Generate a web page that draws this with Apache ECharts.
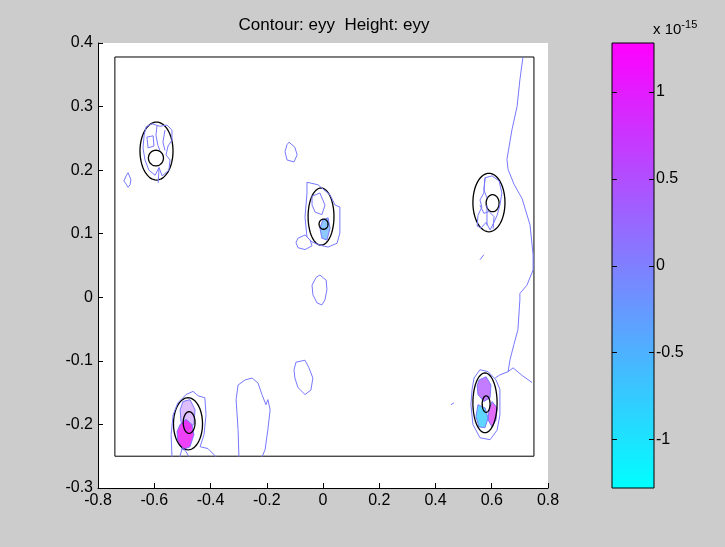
<!DOCTYPE html>
<html>
<head>
<meta charset="utf-8">
<script src="https://cdn.jsdelivr.net/npm/echarts@6/dist/echarts.min.js"></script>
<style>
html, body { margin: 0; padding: 0; background: #cccccc; }
#chart { width: 725px; height: 547px; }
</style>
</head>
<body>
<div id="chart"></div>
<script>
// ---- axes ----
const xRange = [-0.8, 0.8];
const yRange = [-0.3, 0.4];
const colorRange = [-1.28, 1.28];          // x 10^-15
const colorTicks = [-1, -0.5, 0, 0.5, 1];

// ---- geometry: outer boundary and the circular inclusions [cx, cy, rx, ry] ----
const boundary = [[-0.74, -0.25], [0.75, -0.25], [0.75, 0.378], [-0.74, 0.378], [-0.74, -0.25]];
const ellipses = [
  [-0.592, 0.230, 0.0587, 0.0456], [-0.594, 0.219, 0.0267, 0.0123],
  [-0.007, 0.127, 0.046, 0.045],   [0.002, 0.115, 0.016, 0.008],
  [0.590, 0.149, 0.057, 0.046],    [0.603, 0.148, 0.023, 0.0134],
  [-0.480, -0.199, 0.0516, 0.041], [-0.476, -0.197, 0.021, 0.017],
  [0.576, -0.166, 0.043, 0.047],   [0.580, -0.168, 0.014, 0.013]
];

// ---- eyy contour lines (near-zero level) ----
const contourRight = [[0.711,0.378],[0.700,0.342],[0.690,0.300],[0.672,0.264],[0.654,0.217],[0.658,0.201],[0.679,0.178],[0.708,0.155],[0.736,0.114],[0.747,0.067],[0.747,0.043],[0.725,0.019],[0.700,0.006],[0.700,-0.004],[0.693,-0.051],[0.679,-0.074],[0.665,-0.098],[0.658,-0.117],[0.629,-0.122],[0.612,-0.127]];
const contourRightBranch = [[0.658,-0.117],[0.676,-0.111],[0.708,-0.123],[0.743,-0.134]];
const loopTopCenter = [[-0.121,0.244],[-0.100,0.236],[-0.092,0.224],[-0.103,0.213],[-0.128,0.216],[-0.135,0.229],[-0.128,0.240],[-0.121,0.244]];
const loopTopLeft = [[-0.693,0.196],[-0.683,0.185],[-0.686,0.177],[-0.693,0.173],[-0.700,0.178],[-0.708,0.183],[-0.700,0.191],[-0.693,0.196]];
const loopCenter = [[-0.011,0.035],[0.011,0.027],[0.014,0.012],[0.007,-0.004],[-0.004,-0.012],[-0.021,-0.009],[-0.036,0.004],[-0.039,0.019],[-0.025,0.031],[-0.011,0.035]];
const loopLowCenter = [[-0.096,-0.102],[-0.064,-0.099],[-0.050,-0.111],[-0.036,-0.127],[-0.043,-0.146],[-0.064,-0.153],[-0.089,-0.142],[-0.100,-0.127],[-0.103,-0.114],[-0.096,-0.102]];
const loopBottom = [[-0.299,-0.251],[-0.302,-0.208],[-0.309,-0.161],[-0.302,-0.138],[-0.277,-0.130],[-0.252,-0.127],[-0.231,-0.135],[-0.217,-0.153],[-0.203,-0.169],[-0.196,-0.161],[-0.188,-0.177],[-0.196,-0.208],[-0.206,-0.240],[-0.217,-0.251]];
const ringBottomLeft = [[-0.537,-0.251],[-0.540,-0.216],[-0.533,-0.185],[-0.516,-0.166],[-0.487,-0.153],[-0.462,-0.148],[-0.444,-0.155],[-0.420,-0.158],[-0.416,-0.185],[-0.423,-0.216],[-0.437,-0.235],[-0.409,-0.238],[-0.380,-0.251]];
const lineBottomLeft = [[-0.509,-0.251],[-0.500,-0.236],[-0.487,-0.243],[-0.476,-0.251]];
const ringBottomRight = [[0.537,-0.127],[0.558,-0.114],[0.587,-0.117],[0.615,-0.130],[0.629,-0.145],[0.629,-0.185],[0.619,-0.209],[0.594,-0.224],[0.558,-0.221],[0.533,-0.200],[0.526,-0.169],[0.530,-0.145],[0.537,-0.127]];
const ringTopLeft = [[-0.629,0.268],[-0.608,0.273],[-0.580,0.269],[-0.555,0.271],[-0.537,0.263],[-0.537,0.247],[-0.551,0.238],[-0.558,0.224],[-0.544,0.216],[-0.548,0.200],[-0.572,0.191],[-0.583,0.204],[-0.597,0.192],[-0.619,0.200],[-0.633,0.216],[-0.640,0.235],[-0.636,0.255],[-0.629,0.268]];
const stemTopLeft = [[-0.583,0.204],[-0.586,0.180]];
const webTopLeftA = [[-0.590,0.270],[-0.594,0.255],[-0.587,0.239],[-0.580,0.231]];
const webTopLeftB = [[-0.562,0.263],[-0.569,0.244],[-0.562,0.231]];
const loopTopLeftInner = [[-0.626,0.252],[-0.604,0.254],[-0.601,0.238],[-0.622,0.235],[-0.626,0.252]];
const ringCenter = [[-0.057,0.181],[-0.018,0.177],[0.025,0.161],[0.043,0.145],[0.060,0.142],[0.060,0.101],[0.050,0.085],[0.018,0.079],[-0.011,0.082],[-0.039,0.087],[-0.057,0.095],[-0.064,0.126],[-0.057,0.164],[-0.057,0.181]];
const loopCenterSide = [[-0.089,0.093],[-0.064,0.098],[-0.046,0.090],[-0.039,0.081],[-0.064,0.075],[-0.089,0.078],[-0.096,0.086],[-0.089,0.093]];
const loopCenterInner = [[-0.039,0.159],[-0.011,0.164],[0.007,0.145],[-0.004,0.130],[-0.028,0.134],[-0.039,0.145],[-0.039,0.159]];
const ringTopRight = [[0.576,0.188],[0.601,0.191],[0.626,0.183],[0.636,0.164],[0.629,0.145],[0.619,0.129],[0.608,0.118],[0.594,0.106],[0.580,0.118],[0.562,0.109],[0.548,0.112],[0.551,0.129],[0.565,0.142],[0.558,0.153],[0.572,0.164],[0.576,0.188]];
const stemTopRight = [[0.583,0.145],[0.583,0.113]];
const webTopRightA = [[0.576,0.188],[0.572,0.169],[0.583,0.156]];
const webTopRightB = [[0.558,0.145],[0.572,0.132],[0.590,0.135],[0.608,0.127],[0.605,0.108]];
const dashRight = [[0.558,0.059],[0.572,0.067]];
const dashLowRight = [[0.455,-0.169],[0.466,-0.166]];

const contours = [contourRight, contourRightBranch, loopTopCenter, loopTopLeft, loopCenter, loopLowCenter,
  loopBottom, ringBottomLeft, lineBottomLeft, ringBottomRight, ringTopLeft, stemTopLeft, webTopLeftA,
  webTopLeftB, loopTopLeftInner, ringCenter, loopCenterSide, loopCenterInner, ringTopRight, stemTopRight,
  webTopRightA, webTopRightB, dashRight, dashLowRight];

// ---- dense contour patches (strain concentrations) ----
const patchMagentaLeft = [[-0.508,-0.200],[-0.487,-0.192],[-0.466,-0.200],[-0.459,-0.216],[-0.473,-0.235],[-0.498,-0.240],[-0.516,-0.227],[-0.519,-0.211]];
const patchPurpleLeft = [[-0.498,-0.164],[-0.473,-0.161],[-0.455,-0.177],[-0.459,-0.200],[-0.480,-0.208],[-0.505,-0.196],[-0.508,-0.177]];
const patchPurpleRight = [[0.555,-0.130],[0.580,-0.125],[0.597,-0.138],[0.594,-0.158],[0.572,-0.164],[0.551,-0.153],[0.548,-0.139]];
const patchCyanRight = [[0.551,-0.169],[0.576,-0.174],[0.587,-0.190],[0.576,-0.205],[0.555,-0.204],[0.544,-0.188]];
const patchMagentaRight = [[0.601,-0.164],[0.619,-0.174],[0.615,-0.193],[0.601,-0.204],[0.587,-0.193],[0.590,-0.177]];
const patchBlueCenter = [[0.000,0.122],[0.018,0.125],[0.025,0.109],[0.014,0.090],[-0.004,0.093],[-0.011,0.109]];

const patches = [
  [patchPurpleLeft, 'rgba(185,110,255,0.45)'],
  [patchMagentaLeft, 'rgba(235,30,245,0.85)'],
  [patchPurpleRight, 'rgba(175,80,255,0.75)'],
  [patchCyanRight, 'rgba(40,200,255,0.75)'],
  [patchMagentaRight, 'rgba(215,60,245,0.75)'],
  [patchBlueCenter, 'rgba(80,170,255,0.65)']
];

const FONT = 'Liberation Sans, Arial, sans-serif';
const lineColor = '#7878ff';

function toPixels(api, pts) {
  return pts.map(function (pt) { return api.coord(pt); });
}

const series = [
  // filled patches
  {
    type: 'custom', xAxisIndex: 0, yAxisIndex: 0, data: [[0, 0]], silent: true, z: 2,
    renderItem: function (params, api) {
      return {
        type: 'group',
        children: patches.map(function (p) {
          return { type: 'polygon', shape: { points: toPixels(api, p[0]) },
            style: { fill: p[1], stroke: lineColor, lineWidth: 1 } };
        })
      };
    }
  },
  // domain boundary
  {
    type: 'custom', xAxisIndex: 0, yAxisIndex: 0, data: [[0, 0]], silent: true, z: 4,
    renderItem: function (params, api) {
      return { type: 'polyline', shape: { points: toPixels(api, boundary) },
        style: { fill: 'transparent', stroke: '#000', lineWidth: 1 } };
    }
  },
  // inclusion outlines
  {
    type: 'custom', xAxisIndex: 0, yAxisIndex: 0, data: ellipses, silent: true, z: 5,
    renderItem: function (params, api) {
      const c = api.coord([api.value(0), api.value(1)]);
      const s = api.size([api.value(2), api.value(3)]);
      const pts = [];
      for (let k = 0; k <= 64; k++) {
        const a = k / 64 * Math.PI * 2;
        pts.push([c[0] + s[0] * Math.cos(a), c[1] + s[1] * Math.sin(a)]);
      }
      return { type: 'polyline', shape: { points: pts }, style: { stroke: '#000', lineWidth: 1.3, fill: 'transparent' } };
    }
  },
  // contour lines, all in one group
  {
    type: 'custom', xAxisIndex: 0, yAxisIndex: 0, data: [[0, 0]], silent: true, z: 6,
    renderItem: function (params, api) {
      return {
        type: 'group',
        children: contours.map(function (c) {
          return { type: 'polyline', shape: { points: toPixels(api, c) },
            style: { fill: 'transparent', stroke: lineColor, lineWidth: 1 } };
        })
      };
    }
  },
  // colour bar with inward ticks on both sides
  {
    type: 'custom', xAxisIndex: 1, yAxisIndex: 1, data: [[0, colorRange[0], 1, colorRange[1]]], silent: true,
    renderItem: function (params, api) {
      const p0 = api.coord([api.value(0), api.value(3)]);
      const p1 = api.coord([api.value(2), api.value(1)]);
      const children = [{
        type: 'rect',
        shape: { x: p0[0], y: p0[1], width: p1[0] - p0[0], height: p1[1] - p0[1] },
        style: {
          fill: new echarts.graphic.LinearGradient(0, 0, 0, 1, [
            { offset: 0, color: '#ff00ff' }, { offset: 1, color: '#00ffff' }
          ]),
          stroke: '#000', lineWidth: 1
        }
      }];
      colorTicks.forEach(function (t) {
        const y = Math.round(api.coord([0, t])[1]) + 0.5;
        children.push({ type: 'line', shape: { x1: p0[0], y1: y, x2: p0[0] + 5, y2: y }, style: { stroke: '#000', lineWidth: 1 } });
        children.push({ type: 'line', shape: { x1: p1[0] - 5, y1: y, x2: p1[0], y2: y }, style: { stroke: '#000', lineWidth: 1 } });
      });
      return { type: 'group', children: children };
    }
  }
];

const axisCommon = {
  axisLine: { show: true, onZero: false, lineStyle: { color: '#000', width: 1 } },
  axisTick: { show: true, inside: true, length: 5, lineStyle: { color: '#000' } },
  splitLine: { show: false },
  axisLabel: { color: '#000', fontFamily: FONT, fontSize: 16 }
};

const option = {
  animation: false,
  backgroundColor: '#cccccc',
  grid: [
    { left: 98, top: 43, width: 450, height: 445, show: true, backgroundColor: '#ffffff', borderWidth: 0 },
    { left: 612, top: 43, width: 42, height: 445, show: false }
  ],
  xAxis: [
    Object.assign({}, axisCommon, {
      gridIndex: 0, type: 'value', min: xRange[0], max: xRange[1], interval: 0.2,
      axisLabel: Object.assign({}, axisCommon.axisLabel, { margin: 5 })
    }),
    { gridIndex: 1, type: 'value', min: 0, max: 1, show: false }
  ],
  yAxis: [
    Object.assign({}, axisCommon, {
      gridIndex: 0, type: 'value', min: yRange[0], max: yRange[1], interval: 0.1,
      axisLabel: Object.assign({}, axisCommon.axisLabel, { margin: 5 })
    }),
    {
      gridIndex: 1, type: 'value', position: 'right', min: colorRange[0], max: colorRange[1],
      axisLine: { show: false }, splitLine: { show: false }, axisTick: { show: false },
      axisLabel: { show: true, customValues: colorTicks, margin: 2, color: '#000', fontFamily: FONT, fontSize: 16 }
    }
  ],
  graphic: [
    {
      type: 'text', x: 334, y: 25, z: 10,
      style: { text: 'Contour: eyy  Height: eyy', fontFamily: FONT, fontSize: 17, fill: '#000',
        textAlign: 'center', textVerticalAlign: 'middle' }
    },
    {
      type: 'text', x: 653, y: 30, z: 10,
      style: {
        text: '{a|x 10}{b|-15}', fontFamily: FONT, textVerticalAlign: 'middle',
        rich: {
          a: { fontSize: 15, fontFamily: FONT, fill: '#000', color: '#000' },
          b: { fontSize: 11, fontFamily: FONT, fill: '#000', color: '#000', verticalAlign: 'top', padding: [0, 0, 10, 0] }
        }
      }
    }
  ],
  series: series
};

const chart = echarts.init(document.getElementById('chart'), null, { renderer: 'canvas' });
chart.setOption(option);
</script>
</body>
</html>
